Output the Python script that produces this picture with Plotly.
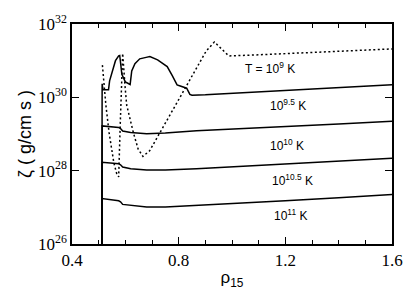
import plotly.graph_objects as go

# ---- data (rho_15, log10 zeta) ----
rho_T9 = [0.514, 0.527, 0.539, 0.557, 0.568, 0.575, 0.581, 0.590, 0.599, 0.605, 0.630, 0.648, 0.666,
          0.691, 0.794, 0.903, 0.934, 0.988, 1.10, 1.30, 1.60]
log_T9 = [30.88, 29.79, 29.04, 28.21, 27.91, 27.83, 29.29, 31.20, 30.29, 29.79, 29.04, 28.59, 28.39,
          28.54, 29.86, 31.26, 31.51, 31.13, 31.16, 31.22, 31.32]

rho_T95 = [0.512, 0.513, 0.516, 0.537, 0.541, 0.551, 0.563, 0.575, 0.579, 0.587, 0.600, 0.618, 0.624,
           0.636, 0.654, 0.678, 0.692, 0.721, 0.757, 0.776, 0.794, 0.806, 0.830, 0.842, 0.850, 0.90,
           1.00, 1.20, 1.40, 1.60]
log_T95 = [25.0, 30.37, 30.21, 30.21, 30.45, 30.71, 31.00, 31.13, 31.14, 30.63, 30.42, 30.35, 30.72,
           30.92, 31.05, 31.09, 31.11, 31.02, 30.84, 30.59, 30.34, 30.31, 30.25, 30.08, 30.06, 30.07,
           30.11, 30.19, 30.27, 30.34]

rho_flat = [0.512, 0.513, 0.575, 0.582, 0.590, 0.620, 0.680, 0.750, 0.867, 1.00, 1.20, 1.40, 1.60]
log_T10 = [25.0, 29.22, 29.18, 29.15, 29.08, 29.04, 29.01, 29.03, 29.09, 29.13, 29.20, 29.27, 29.35]
log_T105 = [25.0, 28.23, 28.19, 28.16, 28.10, 28.05, 28.02, 28.02, 28.05, 28.10, 28.17, 28.25, 28.34]
log_T11 = [25.0, 27.24, 27.18, 27.15, 27.08, 27.05, 27.01, 27.01, 27.05, 27.10, 27.18, 27.26, 27.35]

label_texts = ["T = 10<sup>9</sup> K", "10<sup>9.5</sup> K", "10<sup>10</sup> K",
               "10<sup>10.5</sup> K", "10<sup>11</sup> K"]
label_rho = [1.144, 1.211, 1.208, 1.228, 1.219]
label_log = [30.81, 29.79, 28.70, 27.74, 26.78]

x_ticks = [0.4, 0.8, 1.2, 1.6]
y_tick_exps = [26, 28, 30, 32]

fig = go.Figure()

def add(x, logs, dash):
    fig.add_trace(go.Scatter(x=x, y=[10.0 ** v for v in logs], mode="lines",
                             line=dict(color="black", width=1.5, dash=dash),
                             showlegend=False, hoverinfo="skip"))

add(rho_T9, log_T9, "2px,2.5px")
add(rho_T95, log_T95, "solid")
add(rho_flat, log_T10, "solid")
add(rho_flat, log_T105, "solid")
add(rho_flat, log_T11, "solid")

for t, xr, yl in zip(label_texts, label_rho, label_log):
    fig.add_annotation(x=xr, y=yl, text=t, showarrow=False, xanchor="center", yanchor="middle",
                       font=dict(family="Liberation Sans, Arial, sans-serif", size=12, color="black"))

fig.update_layout(
    width=415, height=296,
    margin=dict(l=72, r=14, t=12, b=45),
    plot_bgcolor="white", paper_bgcolor="white",
    font=dict(family="Liberation Serif, Times New Roman, serif", size=17, color="black"),
)
fig.update_xaxes(
    range=[0.4, 1.6], tickvals=x_ticks, ticktext=[str(v) for v in x_ticks],
    ticks="inside", ticklen=7, tickwidth=1, tickcolor="black",
    minor=dict(dtick=0.1, tick0=0.4, ticks="inside", ticklen=4, tickcolor="black", tickwidth=1),
    showline=True, linecolor="black", linewidth=1.5, mirror="ticks", showgrid=False, zeroline=False,
    tickfont=dict(family="Liberation Serif, Times New Roman, serif", size=17),
    title=dict(text="ρ<sub>15</sub>", standoff=2,
               font=dict(family="Liberation Sans, Arial, sans-serif", size=17)),
)
fig.update_yaxes(
    type="log", range=[26, 32],
    tickvals=[10.0 ** e for e in y_tick_exps],
    ticktext=["10<sup>%d</sup>" % e for e in y_tick_exps],
    ticks="inside", ticklen=7, tickwidth=1, tickcolor="black",
    showline=True, linecolor="black", linewidth=1.5, mirror="ticks", showgrid=False, zeroline=False,
    tickfont=dict(family="Liberation Serif, Times New Roman, serif", size=17),
    title=dict(text="ζ ( g/cm s )", standoff=2,
               font=dict(family="Liberation Sans, Arial, sans-serif", size=18)),
)

fig.write_html("out.html", config={"displayModeBar": False},
               post_script="document.body.style.margin='0';document.body.style.overflow='hidden';")
